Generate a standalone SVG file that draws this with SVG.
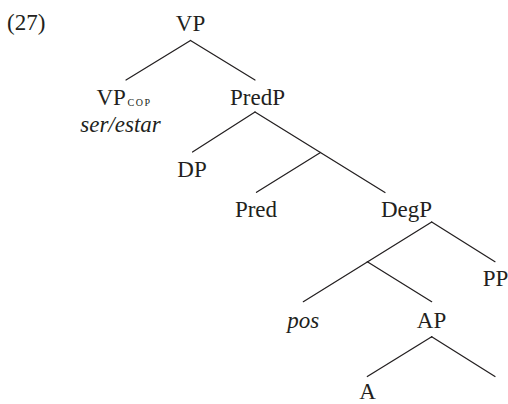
<svg xmlns="http://www.w3.org/2000/svg" width="508" height="404" viewBox="0 0 508 404">
  <style>
    text { font-family: "Liberation Serif", "DejaVu Serif", serif; font-size: 23px; fill: #231f20; }
    .c { text-anchor: middle; }
    .it { font-style: italic; }
    .sc { font-size: 10px; letter-spacing: 1.6px; }
    .edges line { stroke: #231f20; stroke-width: 1.25; stroke-linecap: round; }
  </style>
  <rect width="508" height="404" fill="#ffffff"/>

  <!-- example number -->
  <text id="exnum" x="7" y="29.5">(27)</text>

  <!-- tree edges -->
  <g class="edges" id="edges">
    <!-- VP -->
    <line x1="190.5" y1="40.5" x2="126" y2="80"/>
    <line x1="190.5" y1="40.5" x2="255" y2="80"/>
    <!-- PredP -->
    <line x1="255" y1="112" x2="192.5" y2="152"/>
    <line x1="255" y1="112" x2="385" y2="192.5"/>
    <line x1="320.5" y1="152.5" x2="256.5" y2="192.3"/>
    <!-- DegP -->
    <line x1="431.7" y1="222" x2="303.3" y2="301.7"/>
    <line x1="431.7" y1="222" x2="495" y2="261.7"/>
    <line x1="367.3" y1="261.7" x2="431.7" y2="301.7"/>
    <!-- AP -->
    <line x1="431.7" y1="336.7" x2="367.3" y2="376.5"/>
    <line x1="431.7" y1="336.7" x2="495" y2="376.5"/>
  </g>

  <!-- nodes -->
  <g id="n-vp"><text class="c" x="190.5" y="31">VP</text></g>
  <g id="n-vpcop">
    <text x="96.5" y="105">VP<tspan class="sc" dx="1.5" dy="1">COP</tspan></text>
    <text class="c it" x="120.5" y="131.7">ser/estar</text>
  </g>
  <g id="n-predp"><text class="c" x="257.5" y="105">PredP</text></g>
  <g id="n-dp"><text class="c" x="192" y="176.5">DP</text></g>
  <g id="n-pred"><text class="c" x="256" y="217">Pred</text></g>
  <g id="n-degp"><text class="c" x="406.5" y="217">DegP</text></g>
  <g id="n-pp"><text class="c" x="495.5" y="285.5">PP</text></g>
  <g id="n-pos"><text class="c it" x="303.3" y="328">pos</text></g>
  <g id="n-ap"><text class="c" x="431.5" y="328">AP</text></g>
  <g id="n-a"><text class="c" x="367.5" y="398.5">A</text></g>
</svg>
